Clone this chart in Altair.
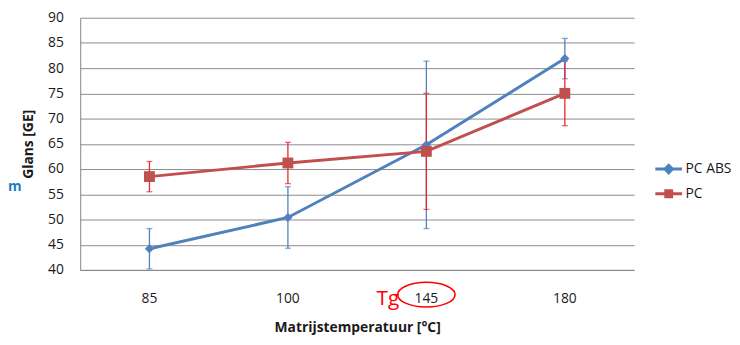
import altair as alt
import pandas as pd

temps = ["85", "100", "145", "180"]
series_names = ["PC ABS", "PC"]
pcabs_vals = [44.2, 50.4, 64.8, 81.9]
pcabs_err = [4.0, 6.1, 16.6, 4.0]
pc_vals = [58.5, 61.2, 63.5, 75.0]
pc_err = [3.0, 4.1, 11.5, 6.4]
y_ticks = [40, 45, 50, 55, 60, 65, 70, 75, 80, 85, 90]

line_colors = {"PC ABS": "#4F81BD", "PC": "#C0504D"}
err_colors = {"PC ABS": "#4F81BD", "PC": "#E8262C"}
shapes = {"PC ABS": "diamond", "PC": "square"}
sizes = {"PC ABS": 85, "PC": 120}

rows = []
for name, vals, errs in [("PC ABS", pcabs_vals, pcabs_err), ("PC", pc_vals, pc_err)]:
    for t, v, e in zip(temps, vals, errs):
        rows.append({"temp": t, "series": name, "value": v, "lo": v - e, "hi": v + e})
df = pd.DataFrame(rows)

FONT = "Open Sans"

x_enc = alt.X(
    "temp:N",
    sort=temps,
    scale=alt.Scale(type="band", paddingInner=0, paddingOuter=0),
    axis=alt.Axis(
        title="Matrijstemperatuur [°C]",
        labelAngle=0,
        ticks=False,
        labelPadding=22,
        titlePadding=15,
        domainColor="#868686",
        labelFontSize=14,
        titleFontSize=14,
        titleFontWeight="bold",
        labelFont=FONT,
        titleFont=FONT,
        labelColor="#1a1a1a",
        titleColor="#1a1a1a",
    ),
)
y_scale = alt.Scale(domain=[40, 90], nice=False, zero=False)
y_axis = alt.Axis(
    title="Glans [GE]",
    values=y_ticks,
    ticks=False,
    grid=True,
    gridColor="#8c8c8c",
    gridWidth=1,
    domainColor="#868686",
    labelPadding=17,
    titlePadding=12,
    labelFontSize=14,
    titleFontSize=14,
    titleFontWeight="bold",
    labelFont=FONT,
    titleFont=FONT,
    labelColor="#1a1a1a",
    titleColor="#1a1a1a",
)


def yq(field):
    return alt.Y(f"{field}:Q", scale=y_scale, axis=y_axis, title="Glans [GE]")


base = alt.Chart(df)
layers = []
for name in series_names:
    sub = base.transform_filter(alt.datum.series == name)
    layers.append(
        sub.mark_line(color=line_colors[name], strokeWidth=3).encode(x=x_enc, y=yq("value"))
    )
for name in series_names:
    sub = base.transform_filter(alt.datum.series == name)
    layers.append(
        sub.mark_rule(color=err_colors[name], strokeWidth=1.3).encode(
            x=x_enc, y=yq("lo"), y2="hi:Q"
        )
    )
    for fld in ["lo", "hi"]:
        layers.append(
            sub.mark_tick(color=err_colors[name], thickness=1.3, size=6, orient="horizontal").encode(
                x=x_enc, y=yq(fld)
            )
        )
for name in series_names:
    sub = base.transform_filter(alt.datum.series == name)
    layers.append(
        sub.mark_point(
            shape=shapes[name], filled=True, opacity=1, color=line_colors[name], size=sizes[name]
        ).encode(x=x_enc, y=yq("value"))
    )

# legend layer (no visible marks)
legend_paths = [
    "M-1,0H1M-0.28,0L0,-0.28L0.28,0L0,0.28Z",
    "M-1,0H1M-0.22,-0.22H0.22V0.22H-0.22Z",
]
legend_layer = base.transform_filter("false").mark_point(filled=True, strokeWidth=3, opacity=1).encode(
    x=x_enc,
    y=yq("value"),
    color=alt.Color(
        "series:N",
        scale=alt.Scale(domain=series_names, range=[line_colors[n] for n in series_names]),
        legend=alt.Legend(
            title=None,
            orient="none",
            legendX=580,
            legendY=138,
            symbolSize=729,
            symbolStrokeWidth=3,
            symbolOpacity=1,
            labelFontSize=14,
            labelFont=FONT,
            labelColor="#1a1a1a",
            labelOffset=2,
            rowPadding=-1,
            padding=0,
        ),
    ),
    stroke=alt.Stroke(
        "series:N",
        scale=alt.Scale(domain=series_names, range=[line_colors[n] for n in series_names]),
    ),
    shape=alt.Shape(
        "series:N",
        scale=alt.Scale(domain=series_names, range=legend_paths),
    ),
)
layers.append(legend_layer)

# annotations
ann = alt.Chart(pd.DataFrame({"temp": ["145"], "label": ["Tg"]}))
layers.append(
    ann.mark_text(color="#FF0000", fontSize=21, font=FONT, dx=-39, baseline="middle").encode(
        x=x_enc, y=alt.value(284), text="label:N"
    )
)
layers.append(
    ann.mark_point(
        shape="M-1,0A1,0.43 0 1,1 1,0A1,0.43 0 1,1 -1,0Z",
        filled=False,
        color="#FF0000",
        strokeWidth=1.6,
        size=3364,
        opacity=1,
    ).encode(x=x_enc, y=alt.value(280))
)
frag = alt.Chart(pd.DataFrame({"t": ["m"]}))
layers.append(
    frag.mark_text(color="#1F7AC8", fontSize=14, fontWeight="bold", font=FONT, align="left", baseline="middle").encode(
        x=alt.value(-73), y=alt.value(171), text="t:N"
    )
)

chart = (
    alt.layer(*layers)
    .properties(
        width=560,
        height=255,
        autosize=alt.AutoSizeParams(type="none"),
        padding={"left": 73, "top": 8, "right": 99, "bottom": 66},
        background="white",
    )
    .configure_view(stroke=None)
)
chart.save("out.html", embed_options={"renderer": "svg", "actions": False})
